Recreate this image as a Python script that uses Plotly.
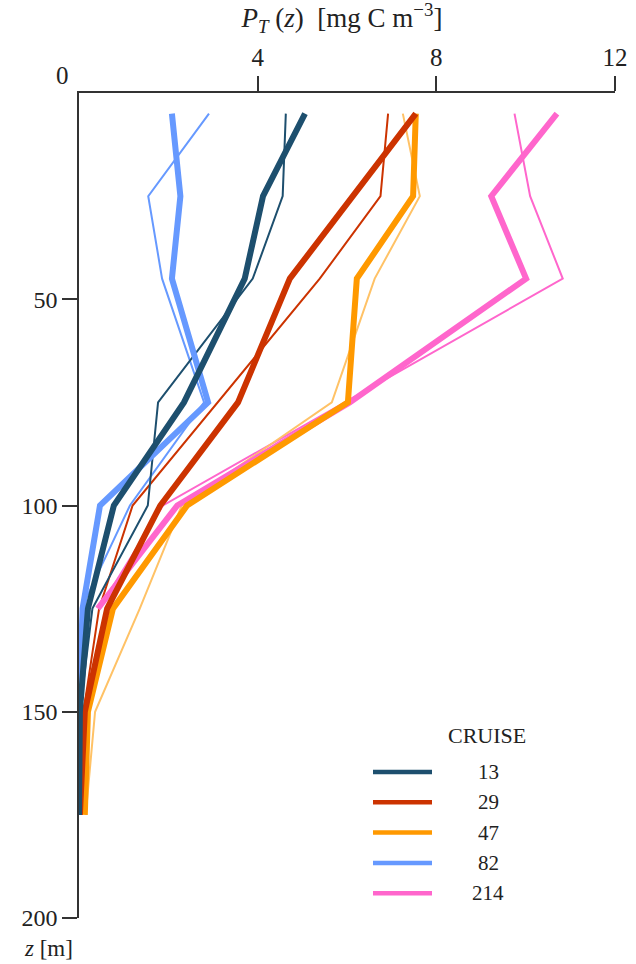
import plotly.graph_objects as go

# Depths of the profile samples [m]
depth = [5, 25, 45, 75, 100, 125, 150, 175]
depth_214 = [5, 25, 45, 75, 100, 125]

cruises = ["13", "29", "47", "82", "214"]

# P_T(z) profiles [mg C m^-3]: bold and light variant per cruise
bold_13 = [5.06, 4.12, 3.71, 2.35, 0.78, 0.20, 0.02, 0.00]
light_13 = [4.63, 4.56, 3.89, 1.77, 1.54, 0.30, 0.02, 0.00]
bold_29 = [7.54, 6.13, 4.72, 3.56, 1.82, 0.63, 0.13, 0.02]
light_29 = [6.92, 6.75, 5.39, 3.10, 1.20, 0.45, 0.10, 0.00]
bold_47 = [7.54, 7.48, 6.22, 6.02, 2.42, 0.76, 0.20, 0.13]
light_47 = [7.25, 7.63, 6.62, 5.66, 2.30, 1.36, 0.36, 0.15]
bold_82 = [2.08, 2.27, 2.08, 2.89, 0.47, 0.08, 0.00, 0.00]
light_82 = [2.91, 1.55, 1.86, 2.80, 1.14, 0.05, 0.00, 0.00]
bold_214 = [10.70, 9.23, 10.01, 6.06, 2.20, 0.42]
light_214 = [9.75, 10.10, 10.83, 5.93, 1.88, 0.45]

x_ticks = [4, 8, 12]
y_ticks = [50, 100, 150, 200]

colors = {"13": "#1d4f6e", "29": "#cc3300", "47": "#ff9900",
          "82": "#6699ff", "214": "#ff66cc"}
light_colors = {"13": "#1d4f6e", "29": "#cc3300", "47": "#ffc266",
                "82": "#6699ff", "214": "#ff66cc"}

bold = {"13": bold_13, "29": bold_29, "47": bold_47, "82": bold_82, "214": bold_214}
light = {"13": light_13, "29": light_29, "47": light_47, "82": light_82, "214": light_214}
depths = {"13": depth, "29": depth, "47": depth, "82": depth, "214": depth_214}

FONT = "Liberation Serif"
AX = "#333333"

fig = go.Figure()

# thin profiles underneath
for c in ["214", "82", "47", "29", "13"]:
    fig.add_trace(go.Scatter(x=light[c], y=depths[c], mode="lines",
                             line=dict(color=light_colors[c], width=2),
                             showlegend=False, hoverinfo="skip"))
# thick profiles on top
for c in ["214", "82", "47", "29", "13"]:
    fig.add_trace(go.Scatter(x=bold[c], y=depths[c], mode="lines", name=c,
                             line=dict(color=colors[c], width=6),
                             showlegend=False))

# plot area: x 79..615 px, y 93..918 px
L, R, T, B = 79, 21, 93, 46
W, H = 636, 964
pw, ph = W - L - R, H - T - B


def px(xp):
    return (xp - L) / pw


def py(yp):
    return (H - B - yp) / ph


shapes = []
annotations = []

# legend
annotations.append(dict(x=px(487), y=py(735), xref="paper", yref="paper",
                        text="CRUISE", showarrow=False, xanchor="center",
                        yanchor="middle", font=dict(family=FONT, size=22, color="#222")))
for i, c in enumerate(cruises):
    yy = py(772 + i * 30.3)
    shapes.append(dict(type="line", xref="paper", yref="paper",
                       x0=px(373), x1=px(432), y0=yy, y1=yy,
                       line=dict(color=colors[c], width=4.5)))
    annotations.append(dict(x=px(488), y=yy, xref="paper", yref="paper",
                            text=c, showarrow=False, xanchor="center",
                            yanchor="middle", font=dict(family=FONT, size=21, color="#222")))

# origin label and depth axis label
annotations.append(dict(x=px(62), y=py(75), xref="paper", yref="paper", text="0",
                        showarrow=False, xanchor="center", yanchor="middle",
                        font=dict(family=FONT, size=25, color="#222")))
annotations.append(dict(x=px(48), y=py(948), xref="paper", yref="paper",
                        text="<i>z</i> [m]", showarrow=False, xanchor="center",
                        yanchor="middle", font=dict(family=FONT, size=23, color="#222")))

fig.update_layout(
    width=W, height=H,
    margin=dict(l=L, r=R, t=T, b=B),
    paper_bgcolor="white", plot_bgcolor="white",
    title=dict(text="<i>P</i><sub><i>T</i></sub> (<i>z</i>)  [mg C m<sup>−3</sup>]",
               x=342 / W, xref="container", xanchor="center",
               y=1 - 18 / H, yref="container", yanchor="middle",
               font=dict(family=FONT, size=27, color="#222")),
    xaxis=dict(range=[0, 12], side="top", tickvals=x_ticks,
               ticktext=[str(v) for v in x_ticks], automargin=False,
               ticks="outside", ticklen=15, tickwidth=1.5, tickcolor=AX,
               showline=True, linecolor=AX, linewidth=1.5,
               showgrid=False, zeroline=False,
               tickfont=dict(family=FONT, size=25, color="#222")),
    yaxis=dict(range=[200, 0], tickvals=y_ticks,
               ticktext=[str(v) for v in y_ticks], automargin=False,
               ticks="outside", ticklen=15, tickwidth=1.5, tickcolor=AX,
               showline=True, linecolor=AX, linewidth=1.5,
               showgrid=False, zeroline=False,
               tickfont=dict(family=FONT, size=24, color="#222")),
    shapes=shapes,
    annotations=annotations,
    showlegend=False,
)

fig.write_html("out.html")
